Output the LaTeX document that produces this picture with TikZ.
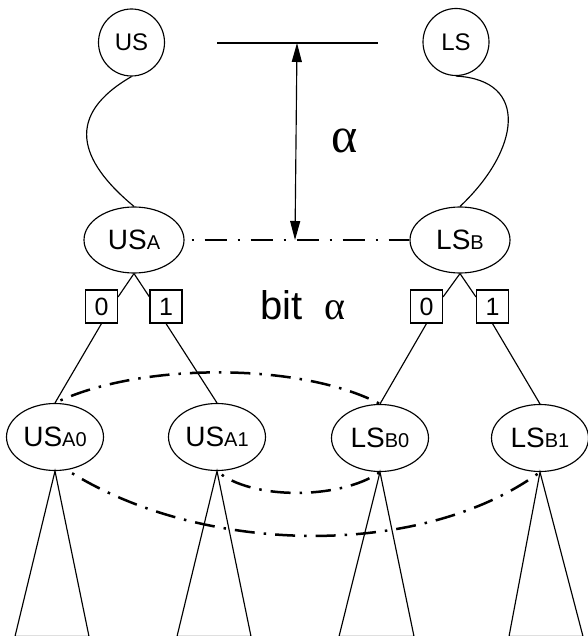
\documentclass[tikz,border=0pt]{standalone}
\usepackage{fontspec}
\setmainfont{Liberation Sans}
\newfontfamily\grk{Liberation Serif}
\usetikzlibrary{arrows.meta,shapes.geometric}
\newcommand{\subsm}[1]{{\fontsize{20}{20}\selectfont #1}}
\begin{document}
\begin{tikzpicture}[x=1pt,y=-1pt,
  line width=1.15pt,
  topcirc/.style={draw,ellipse,minimum width=66pt,minimum height=67pt,inner sep=0pt,font=\fontsize{24}{24}\selectfont},
  midell/.style={draw,ellipse,minimum width=100pt,minimum height=66pt,inner sep=0pt,font=\fontsize{28}{28}\selectfont},
  lowell/.style={draw,ellipse,minimum width=97pt,minimum height=67pt,inner sep=0pt,font=\fontsize{28}{28}\selectfont},
  bitbox/.style={draw,minimum width=32pt,minimum height=33pt,inner sep=0pt,font=\fontsize{25}{25}\selectfont},
  dashdot/.style={line width=2.5pt,dash pattern=on 20pt off 9pt on 2.5pt off 9pt,dash phase=23pt},
  axisdash/.style={line width=2.2pt,dash pattern=on 22pt off 11pt on 2pt off 11pt,dash phase=26pt}
]
\useasboundingbox (0,0) rectangle (587,636);

% top level
\node[topcirc] (US) at (131.5,42.5) {US};
\node[topcirc] (LS) at (456,42) {LS};

% second level
\node[midell] (USA) at (134,240) {US\subsm{A}};
\node[midell] (LSB) at (460,240) {LS\subsm{B}};

% bit boxes
\node[bitbox] (b0A) at (101.5,306.5) {0};
\node[bitbox] (b1A) at (166,306.5) {1};
\node[bitbox] (b0B) at (426.5,306.5) {0};
\node[bitbox] (b1B) at (492.5,306.5) {1};

% third level
\node[lowell] (USA0) at (55,437) {US\subsm{A0}};
\node[lowell] (USA1) at (217,437) {US\subsm{A1}};
\node[lowell] (LSB0) at (380,438) {LS\subsm{B0}};
\node[lowell] (LSB1) at (540,438) {LS\subsm{B1}};

% labels
\node (alpha) at (345,141) {\grk\fontsize{50}{50}\selectfont α};
\node (bit) at (303,305) {\fontsize{40}{40}\selectfont bit\hspace{22pt}{\grk α}};

% reference line and arrow
\coordinate (hl) at (217,43);
\coordinate (hr) at (378,43);
\coordinate (atop) at (297,43);
\coordinate (abot) at (295,240);
\draw (hl) -- (hr);
\draw[{Triangle[length=19pt,width=10pt]}-{Triangle[length=19pt,width=10pt]}] (atop) -- (abot);

% wavy connectors
\draw (US.south) .. controls (65,115) and (78,160) .. (USA.north);
\draw (LS.south) .. controls (530,80) and (520,150) .. (LSB.north);

% dash-dot between USA and LSB
\draw[axisdash] (USA) -- (LSB);

% edges to bit boxes
\draw (USA.south) -- (b0A.30);
\draw (USA.south) -- (b1A.150);
\draw (LSB.south) -- (b0B.30);
\draw (LSB.south) -- (b1B.150);
\draw (b0A.south) -- (USA0.north);
\draw (b1A.south) -- (USA1.north);
\draw (b0B.south) -- (LSB0.north);
\draw (b1B.south) -- (LSB1.north);

% subtrees
\coordinate (t0l) at (15,636.4);  \coordinate (t0r) at (89,636.4);
\coordinate (t1l) at (177,636.4); \coordinate (t1r) at (251,636.4);
\coordinate (t2l) at (339,636.4); \coordinate (t2r) at (414,636.4);
\coordinate (t3l) at (509,636.4); \coordinate (t3r) at (583,636.4);
\draw (USA0.south) -- (t0l) -- (t0r) -- cycle;
\draw (USA1.south) -- (t1l) -- (t1r) -- cycle;
\draw (LSB0.south) -- (t2l) -- (t2r) -- cycle;
\draw (LSB1.south) -- (t3l) -- (t3r) -- cycle;

% dash-dot relations
\draw[dashdot] (USA0.north) .. controls (140,362) and (300,362) .. (LSB0.north);
\draw[dashdot] (USA1.south) .. controls (250,500) and (340,500) .. (LSB0.south);
\draw[dashdot] (USA0.-70) .. controls (200,555) and (420,560) .. (LSB1.south);
\end{tikzpicture}
\end{document}
